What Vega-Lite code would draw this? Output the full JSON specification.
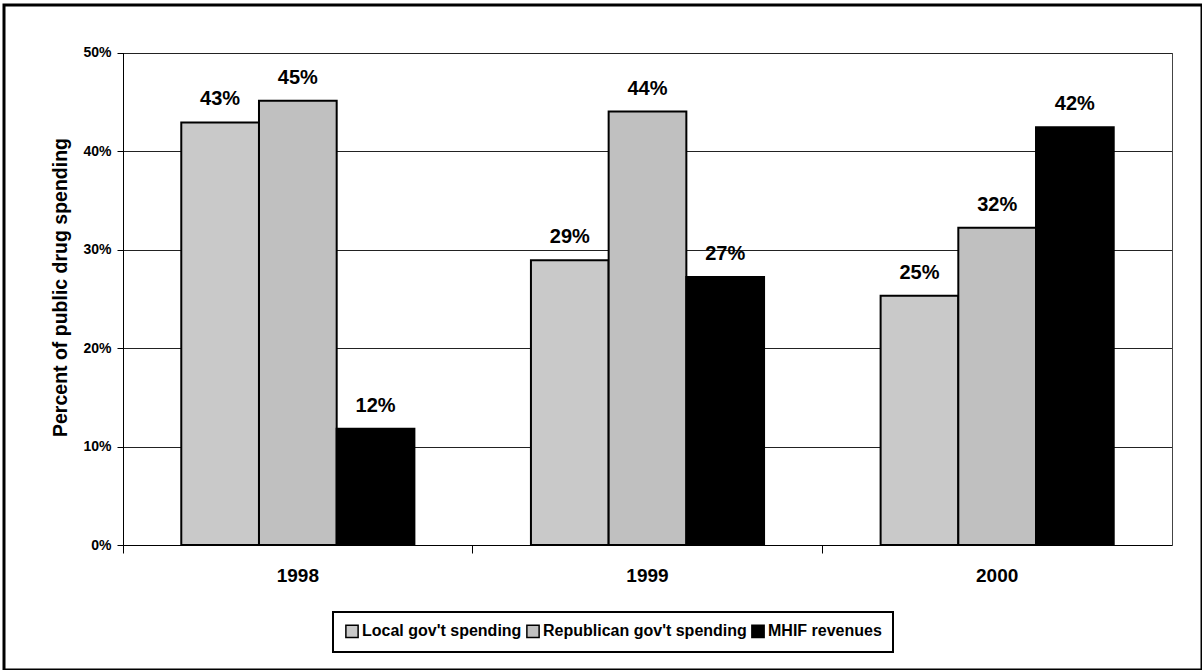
{
  "$schema": "https://vega.github.io/schema/vega-lite/v6.json",
  "width": 1198,
  "height": 665,
  "autosize": "none",
  "padding": {"left": 4, "top": 5, "right": 0, "bottom": 0},
  "background": "white",
  "config": {
    "font": "Liberation Sans",
    "view": {"stroke": "black", "strokeWidth": 3}
  },
  "resolve": {"axis": {"y": "independent"}},
  "data": {
    "values": [
      {"year": "1998", "series": "Local gov't spending", "value": 0.429},
      {"year": "1998", "series": "Republican gov't spending", "value": 0.451},
      {"year": "1998", "series": "MHIF revenues", "value": 0.118},
      {"year": "1999", "series": "Local gov't spending", "value": 0.289},
      {"year": "1999", "series": "Republican gov't spending", "value": 0.44},
      {"year": "1999", "series": "MHIF revenues", "value": 0.272},
      {"year": "2000", "series": "Local gov't spending", "value": 0.253},
      {"year": "2000", "series": "Republican gov't spending", "value": 0.322},
      {"year": "2000", "series": "MHIF revenues", "value": 0.424}
    ]
  },
  "encoding": {
    "x": {
      "field": "year",
      "type": "nominal",
      "scale": {"paddingInner": 0, "paddingOuter": 0, "range": [119, 1168]},
      "axis": {
        "title": null,
        "orient": "bottom",
        "offset": -125,
        "labelAngle": 0,
        "bandPosition": 0,
        "labelFontSize": 19,
        "labelFontWeight": "bold",
        "labelColor": "black",
        "labelPadding": 13,
        "tickSize": 8,
        "tickColor": "black",
        "domainColor": "black",
        "grid": false
      }
    },
    "xOffset": {
      "field": "series",
      "type": "nominal",
      "sort": ["Local gov't spending", "Republican gov't spending", "MHIF revenues"],
      "scale": {"paddingInner": 0, "paddingOuter": 0.75}
    }
  },
  "layer": [
    {
      "mark": {"type": "bar", "stroke": "black", "strokeWidth": 2},
      "encoding": {
        "y": {
          "field": "value",
          "type": "quantitative",
          "scale": {"domain": [0, 0.5], "range": [540, 47.5]},
          "axis": {
            "orient": "left",
            "offset": -119,
            "values": [0, 0.1, 0.2, 0.3, 0.4, 0.5],
            "format": ".0%",
            "title": "Percent of public drug spending",
            "titleFontSize": 19.5,
            "titleFontWeight": "bold",
            "titleColor": "black",
            "titlePadding": 12,
            "titleY": 282,
            "labelFontSize": 14,
            "labelFontWeight": "bold",
            "labelColor": "black",
            "labelPadding": 6,
            "tickSize": 6,
            "tickColor": "black",
            "domainColor": "black",
            "gridColor": "#222",
            "gridWidth": 1
          }
        },
        "color": {
          "field": "series",
          "type": "nominal",
          "scale": {
            "domain": ["Local gov't spending", "Republican gov't spending", "MHIF revenues"],
            "range": ["#c9c9c9", "#c0c0c0", "#000000"]
          },
          "legend": {
            "title": null,
            "orient": "none",
            "direction": "horizontal",
            "legendX": 329,
            "legendY": 607,
            "symbolType": "square",
            "symbolSize": 150,
            "symbolStrokeColor": "black",
            "symbolStrokeWidth": 1.5,
            "symbolOpacity": 1,
            "labelFontSize": 16,
            "labelFontWeight": "bold",
            "labelColor": "black",
            "labelOffset": 2,
            "labelLimit": 400,
            "columnPadding": 1,
            "padding": 11,
            "strokeColor": "black",
            "fillColor": "white",
            "encode": {"legend": {"update": {"strokeWidth": {"value": 2}}}}
          }
        }
      }
    },
    {
      "mark": {"type": "text", "fontSize": 20, "fontWeight": "bold", "color": "black", "baseline": "bottom", "dy": -13},
      "encoding": {
        "y": {
          "field": "value",
          "type": "quantitative",
          "scale": {"domain": [0, 0.5], "range": [540, 47.5]},
          "axis": {
            "orient": "right",
            "offset": -30,
            "labels": false,
            "ticks": false,
            "grid": false,
            "title": null,
            "domainColor": "#444",
            "domainWidth": 1
          }
        },
        "text": {"field": "value", "type": "quantitative", "format": ".0%"}
      }
    }
  ]
}
